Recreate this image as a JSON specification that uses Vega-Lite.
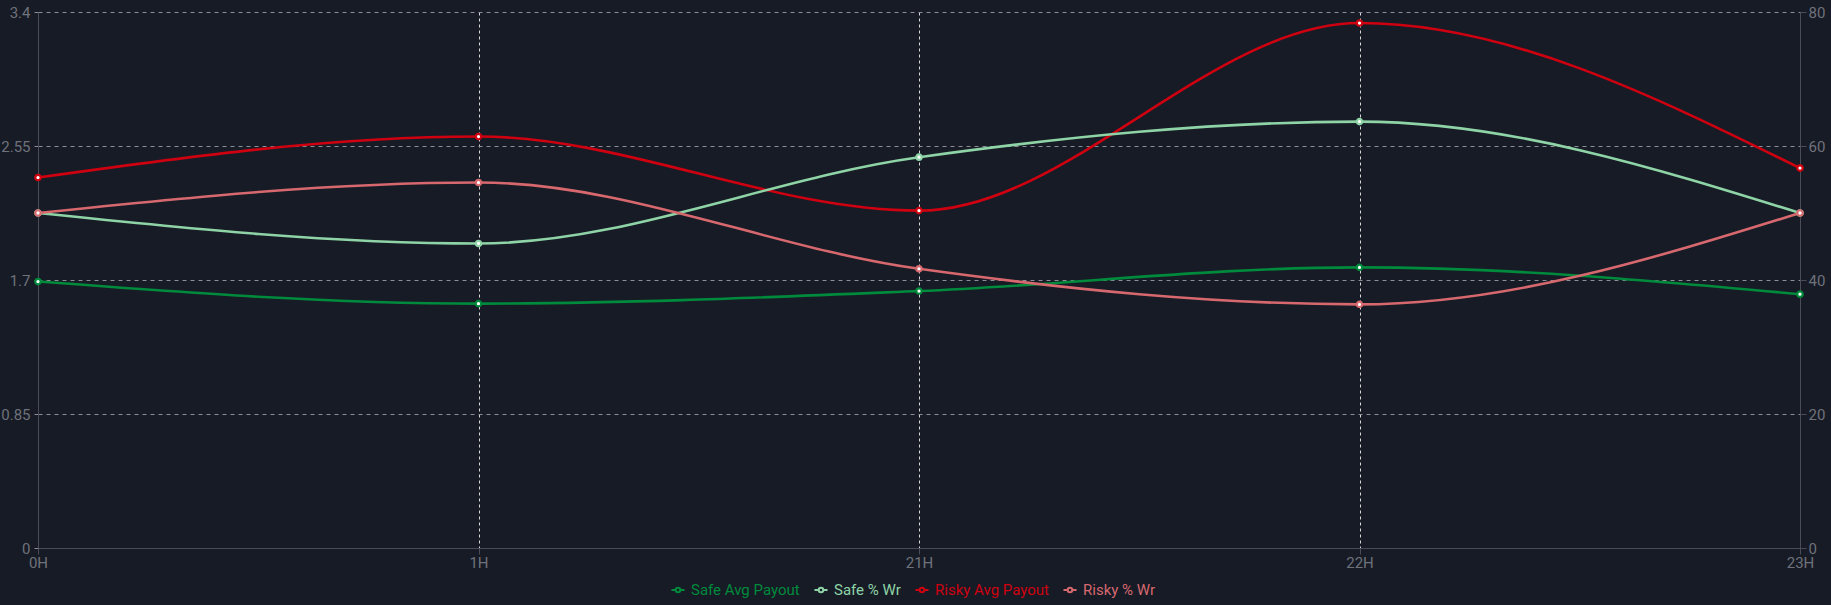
{
  "$schema": "https://vega.github.io/schema/vega-lite/v6.json",
  "width": 1762,
  "height": 536,
  "autosize": "none",
  "padding": {"left": 38, "top": 12, "right": 31, "bottom": 57},
  "background": "#171b26",
  "config": {
    "view": {"stroke": null},
    "font": "Roboto",
    "axis": {"labelFont": "Roboto", "labelFontSize": 15, "labelColor": "#6f727a", "domainColor": "#4a4d55", "tickColor": "#4a4d55", "tickSize": 6, "titleColor": "#6f727a"}
  },
  "data": {
    "values": [
      {"hour": "0H", "series": "Safe Avg Payout", "group": "payout", "value": 1.69},
      {"hour": "1H", "series": "Safe Avg Payout", "group": "payout", "value": 1.55},
      {"hour": "21H", "series": "Safe Avg Payout", "group": "payout", "value": 1.63},
      {"hour": "22H", "series": "Safe Avg Payout", "group": "payout", "value": 1.78},
      {"hour": "23H", "series": "Safe Avg Payout", "group": "payout", "value": 1.61},
      {"hour": "0H", "series": "Risky Avg Payout", "group": "payout", "value": 2.35},
      {"hour": "1H", "series": "Risky Avg Payout", "group": "payout", "value": 2.61},
      {"hour": "21H", "series": "Risky Avg Payout", "group": "payout", "value": 2.14},
      {"hour": "22H", "series": "Risky Avg Payout", "group": "payout", "value": 3.33},
      {"hour": "23H", "series": "Risky Avg Payout", "group": "payout", "value": 2.41},
      {"hour": "0H", "series": "Safe % Wr", "group": "wr", "value": 50},
      {"hour": "1H", "series": "Safe % Wr", "group": "wr", "value": 45.45},
      {"hour": "21H", "series": "Safe % Wr", "group": "wr", "value": 58.33},
      {"hour": "22H", "series": "Safe % Wr", "group": "wr", "value": 63.64},
      {"hour": "23H", "series": "Safe % Wr", "group": "wr", "value": 50},
      {"hour": "0H", "series": "Risky % Wr", "group": "wr", "value": 50},
      {"hour": "1H", "series": "Risky % Wr", "group": "wr", "value": 54.55},
      {"hour": "21H", "series": "Risky % Wr", "group": "wr", "value": 41.67},
      {"hour": "22H", "series": "Risky % Wr", "group": "wr", "value": 36.36},
      {"hour": "23H", "series": "Risky % Wr", "group": "wr", "value": 50}
    ]
  },
  "encoding": {
    "x": {
      "field": "hour", "type": "ordinal",
      "sort": ["0H", "1H", "21H", "22H", "23H"],
      "scale": {"type": "point", "padding": 0},
      "axis": {"title": null, "labelAngle": 0, "grid": true, "gridColor": "#d8d8d8", "gridDash": [3, 3], "gridWidth": 1, "labelPadding": 1}
    }
  },
  "layer": [
    {
      "transform": [{"filter": "datum.group == 'payout'"}],
      "encoding": {
        "y": {
          "field": "value", "type": "quantitative",
          "scale": {"domain": [0, 3.4], "nice": false, "zero": true},
          "axis": {"title": null, "orient": "left", "values": [0, 0.85, 1.7, 2.55, 3.4], "labelExpr": "'' + datum.value", "grid": true, "gridColor": "#8a8d94", "gridDash": [4, 4], "gridWidth": 1, "tickColor": "#8a8d94", "tickDash": [4, 4], "labelPadding": 2}
        }
      },
      "layer": [
        {
          "mark": {"type": "line", "interpolate": "monotone", "strokeWidth": 2.6},
          "encoding": {
            "color": {
              "field": "series", "type": "nominal",
              "scale": {"domain": ["Safe Avg Payout", "Safe % Wr", "Risky Avg Payout", "Risky % Wr"], "range": ["#008a3c", "#8ed4a6", "#cf0010", "#d6686e"]},
              "legend": {
                "title": null, "orient": "none", "direction": "horizontal", "legendX": 632, "legendY": 570,
                "padding": 0, "labelFont": "Roboto", "labelFontSize": 15, "symbolStrokeWidth": 2, "symbolSize": 170,
                "symbolType": "M -1 0 L -0.35 0 M 0.35 0 L 1 0 M -0.35 0 A 0.35 0.35 0 1 0 0.35 0 A 0.35 0.35 0 1 0 -0.35 0",
                "columnPadding": 10, "labelOffset": 5,
                "encode": {"labels": {"update": {"fill": {"scale": "color", "field": "value"}}}}
              }
            }
          }
        },
        {
          "mark": {"type": "point", "filled": true, "fill": "#ffffff", "size": 30, "strokeWidth": 2.2, "opacity": 1},
          "encoding": {
            "stroke": {
              "field": "series", "type": "nominal",
              "scale": {"domain": ["Safe Avg Payout", "Safe % Wr", "Risky Avg Payout", "Risky % Wr"], "range": ["#008a3c", "#8ed4a6", "#cf0010", "#d6686e"]},
              "legend": null
            }
          }
        }
      ]
    },
    {
      "transform": [{"filter": "datum.group == 'wr'"}],
      "encoding": {
        "y": {
          "field": "value", "type": "quantitative",
          "scale": {"domain": [0, 80], "nice": false, "zero": true},
          "axis": {"title": null, "orient": "right", "values": [0, 20, 40, 60, 80], "grid": false, "labelPadding": 2}
        }
      },
      "layer": [
        {
          "mark": {"type": "line", "interpolate": "monotone", "strokeWidth": 2.6},
          "encoding": {
            "color": {"field": "series", "type": "nominal"}
          }
        },
        {
          "mark": {"type": "point", "filled": true, "fill": "#ffffff", "size": 30, "strokeWidth": 2.2, "opacity": 1},
          "encoding": {
            "stroke": {"field": "series", "type": "nominal", "legend": null}
          }
        }
      ]
    }
  ],
  "resolve": {"scale": {"y": "independent", "color": "shared", "stroke": "shared"}}
}
